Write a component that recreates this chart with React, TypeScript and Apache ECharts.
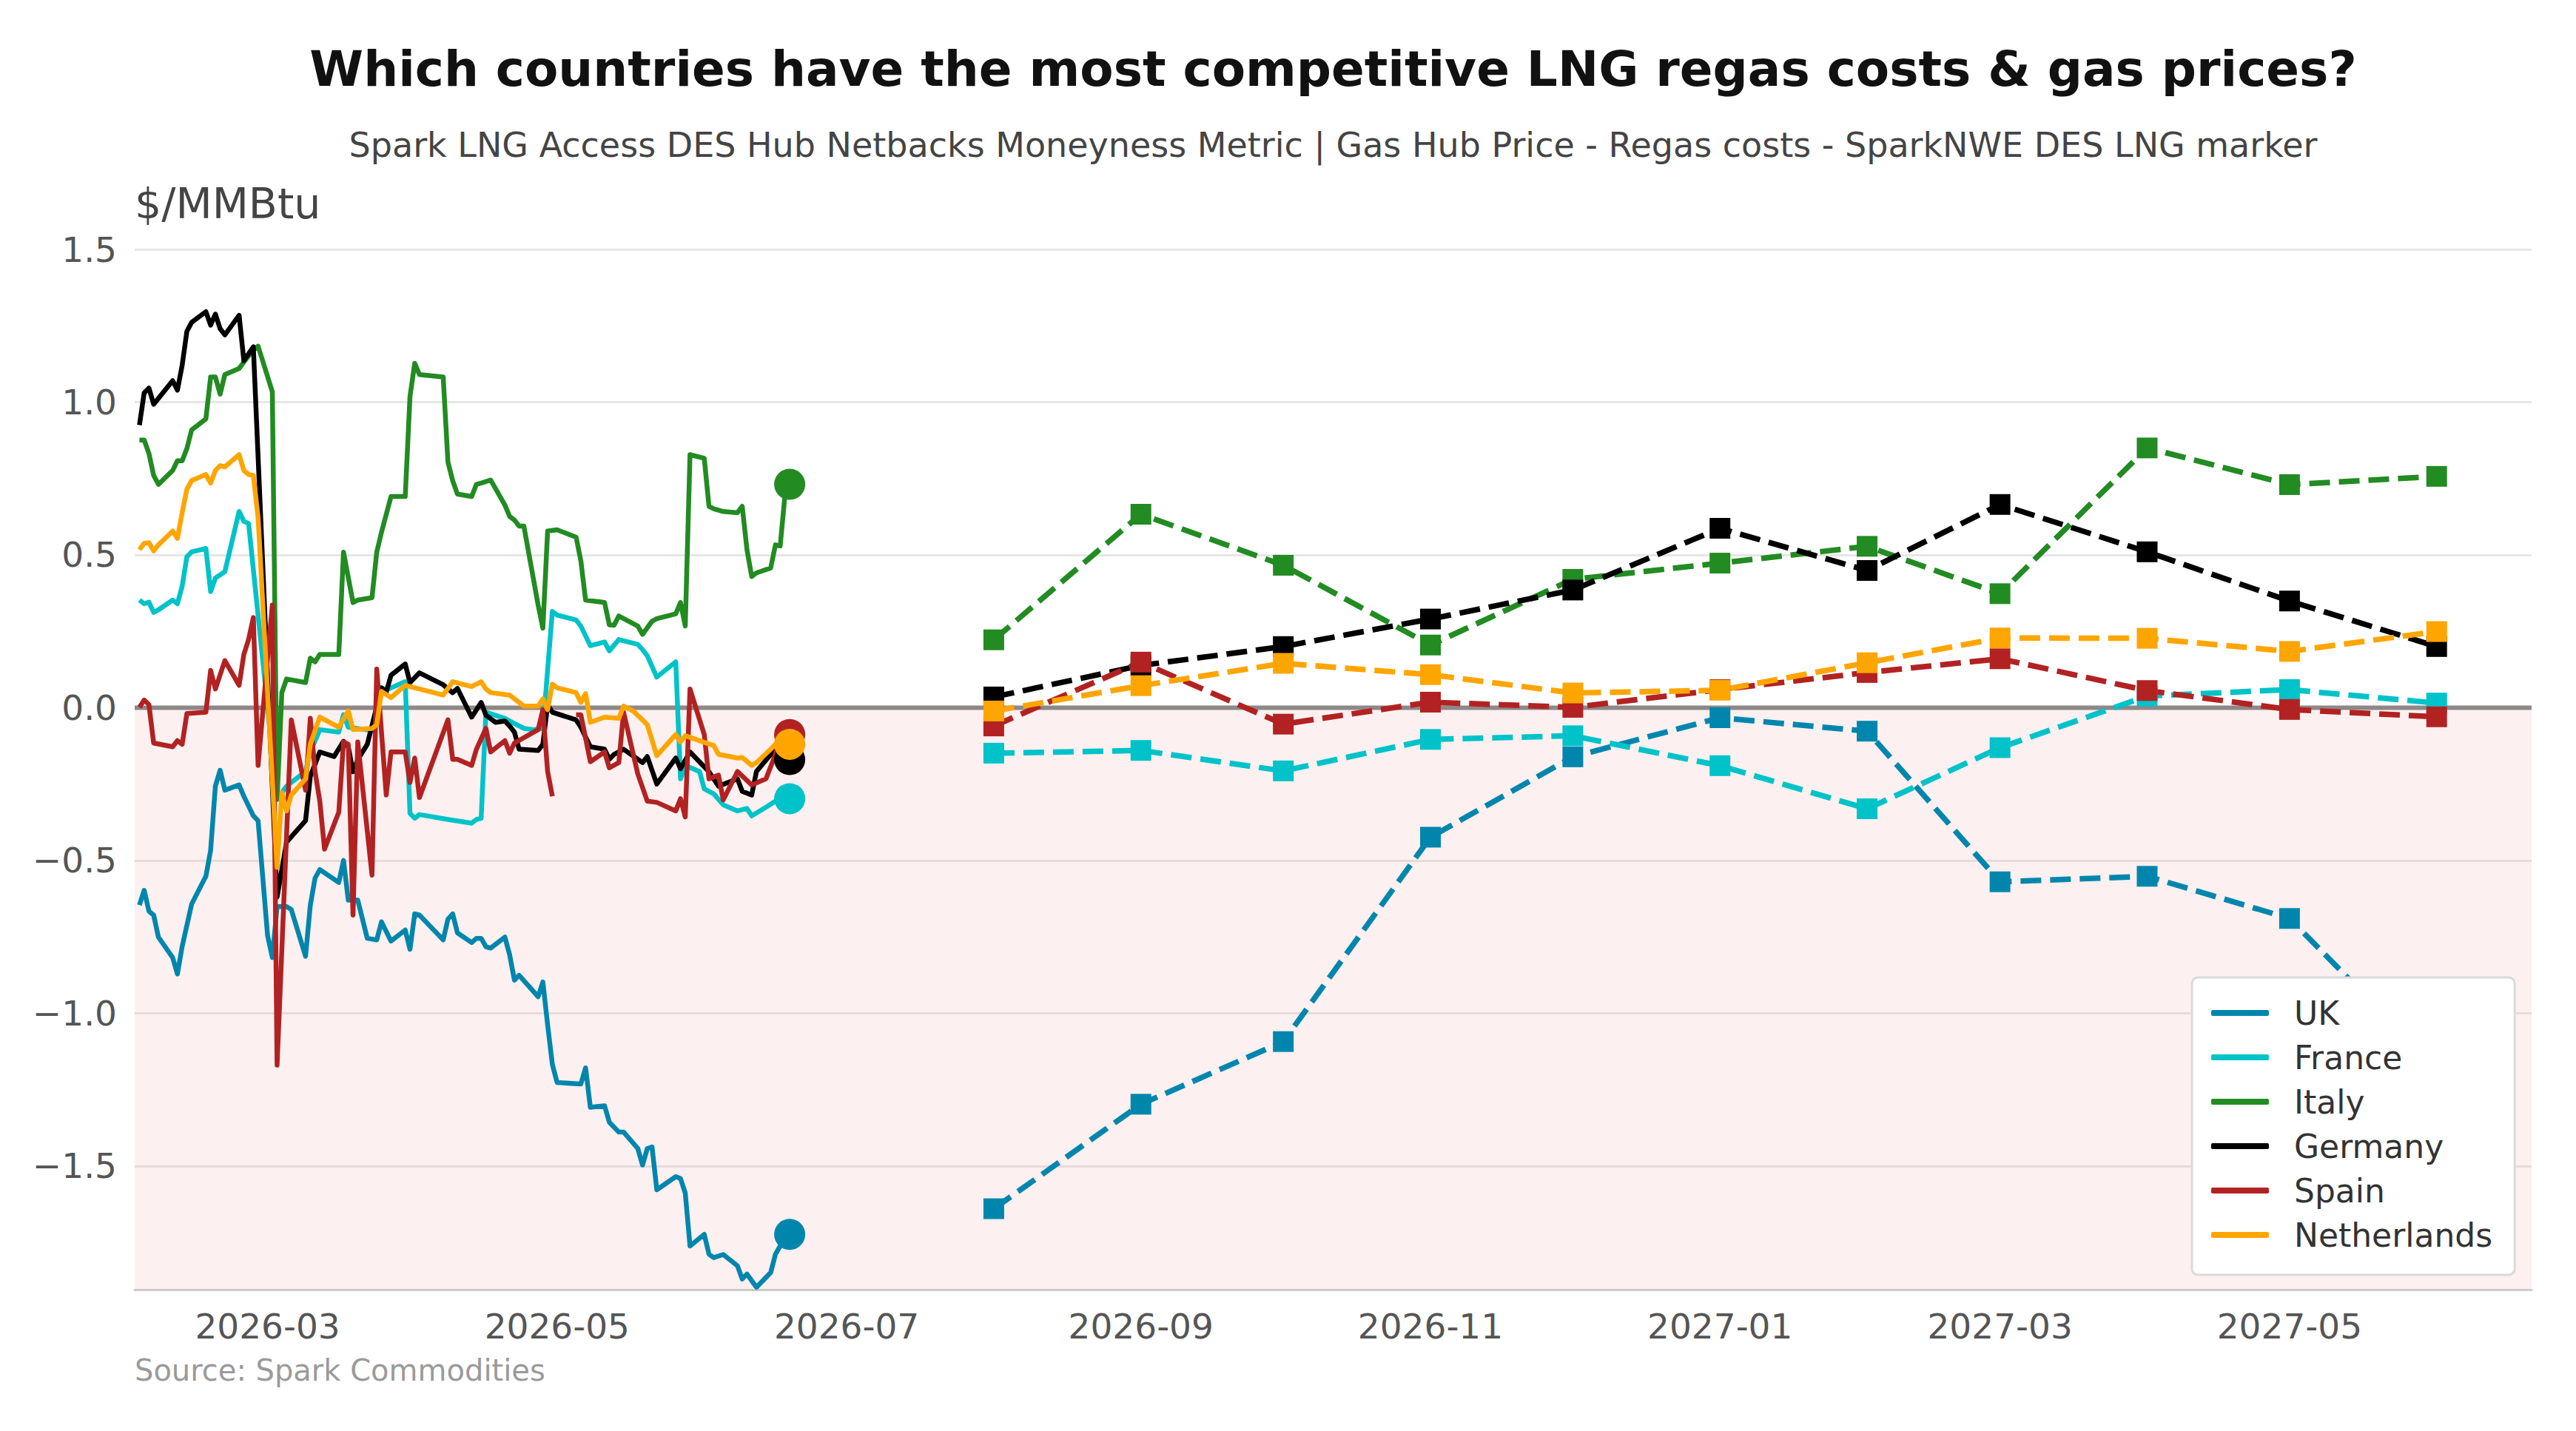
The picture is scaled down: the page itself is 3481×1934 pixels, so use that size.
import React, { useEffect, useRef } from 'react';
import * as echarts from 'echarts';

// ---------------- DATA ----------------
const COUNTRIES = ['UK', 'France', 'Italy', 'Germany', 'Spain', 'Netherlands'];
const COLORS = ['#0086ad', '#00c2c9', '#228b22', '#000000', '#b22222', '#ffa500'];

const TITLE = 'Which countries have the most competitive LNG regas costs & gas prices?';
const SUBTITLE = 'Spark LNG Access DES Hub Netbacks Moneyness Metric | Gas Hub Price - Regas costs - SparkNWE DES LNG marker';
const UNIT = '$/MMBtu';
const SOURCE = 'Source: Spark Commodities';

const xTickLabels = ['2026-03', '2026-05', '2026-07', '2026-09', '2026-11', '2027-01', '2027-03', '2027-05'];
const yTickValues = [-1.5, -1.0, -0.5, 0, 0.5, 1.0, 1.5];
const yTickLabels = ['\u22121.5', '\u22121.0', '\u22120.5', '0.0', '0.5', '1.0', '1.5'];

const X_MIN = '2026-02-01';
const X_MAX = '2027-06-21';
const Y_MIN = -1.905;
const Y_MAX = 1.5;

const ukHist: [string, number | null][] = [
  ['2026-02-02', -0.646], ['2026-02-03', -0.598], ['2026-02-04', -0.666], ['2026-02-05', -0.679], ['2026-02-06', -0.751],
  ['2026-02-09', -0.818], ['2026-02-10', -0.872], ['2026-02-11', -0.782], ['2026-02-13', -0.643], ['2026-02-16', -0.552],
  ['2026-02-17', -0.467], ['2026-02-18', -0.257], ['2026-02-19', -0.205], ['2026-02-20', -0.27], ['2026-02-23', -0.253],
  ['2026-02-24', -0.29], ['2026-02-26', -0.354], ['2026-02-27', -0.37], ['2026-03-01', -0.746], ['2026-03-02', -0.818],
  ['2026-03-03', -0.651], ['2026-03-05', -0.651], ['2026-03-06', -0.661], ['2026-03-09', -0.814], ['2026-03-10', -0.647],
  ['2026-03-11', -0.558], ['2026-03-12', -0.53], ['2026-03-16', -0.572], ['2026-03-17', -0.5], ['2026-03-18', -0.63],
  ['2026-03-20', -0.63], ['2026-03-22', -0.755], ['2026-03-24', -0.76], ['2026-03-25', -0.701], ['2026-03-27', -0.764],
  ['2026-03-30', -0.728], ['2026-03-31', -0.791], ['2026-04-01', -0.675], ['2026-04-02', -0.679], ['2026-04-07', -0.76],
  ['2026-04-08', -0.692], ['2026-04-09', -0.675], ['2026-04-10', -0.737], ['2026-04-13', -0.769], ['2026-04-14', -0.755],
  ['2026-04-15', -0.755], ['2026-04-16', -0.782], ['2026-04-17', -0.787], ['2026-04-20', -0.751], ['2026-04-21', -0.809],
  ['2026-04-22', -0.892], ['2026-04-23', -0.876], ['2026-04-27', -0.946], ['2026-04-28', -0.898], ['2026-04-29', -1.038],
  ['2026-04-30', -1.168], ['2026-05-01', -1.227], ['2026-05-06', -1.232], ['2026-05-07', -1.179], ['2026-05-08', -1.308],
  ['2026-05-11', -1.303], ['2026-05-12', -1.357], ['2026-05-14', -1.389], ['2026-05-15', -1.389], ['2026-05-18', -1.443],
  ['2026-05-19', -1.497], ['2026-05-20', -1.443], ['2026-05-21', -1.438], ['2026-05-22', -1.578], ['2026-05-26', -1.535],
  ['2026-05-27', -1.541], ['2026-05-28', -1.589], ['2026-05-29', -1.762], ['2026-06-01', -1.724], ['2026-06-02', -1.789],
  ['2026-06-03', -1.8], ['2026-06-05', -1.79], ['2026-06-08', -1.827], ['2026-06-09', -1.87], ['2026-06-10', -1.854],
  ['2026-06-12', -1.897], ['2026-06-15', -1.849], ['2026-06-16', -1.789], ['2026-06-17', -1.762], ['2026-06-18', -1.74],
  ['2026-06-19', -1.724],
];

const franceHist: [string, number | null][] = [
  ['2026-02-02', 0.352], ['2026-02-03', 0.34], ['2026-02-04', 0.345], ['2026-02-05', 0.312], ['2026-02-06', 0.32],
  ['2026-02-09', 0.352], ['2026-02-10', 0.34], ['2026-02-11', 0.397], ['2026-02-12', 0.494], ['2026-02-13', 0.51],
  ['2026-02-16', 0.521], ['2026-02-17', 0.38], ['2026-02-18', 0.424], ['2026-02-20', 0.445], ['2026-02-23', 0.642],
  ['2026-02-24', 0.61], ['2026-02-25', 0.603], ['2026-03-03', -0.3], ['2026-03-05', -0.257], ['2026-03-09', -0.209],
  ['2026-03-10', -0.145], ['2026-03-12', -0.072], ['2026-03-16', -0.08], ['2026-03-17', -0.023], ['2026-03-18', -0.064],
  ['2026-03-23', -0.075], ['2026-03-25', 0.065], ['2026-03-26', 0.058], ['2026-03-30', 0.085], ['2026-03-31', -0.346],
  ['2026-04-01', -0.362], ['2026-04-02', -0.35], ['2026-04-08', -0.366], ['2026-04-13', -0.378], ['2026-04-14', -0.366],
  ['2026-04-15', -0.362], ['2026-04-16', -0.015], ['2026-04-20', -0.035], ['2026-04-22', -0.052], ['2026-04-24', -0.068],
  ['2026-04-26', -0.072], ['2026-04-28', -0.068], ['2026-04-30', 0.315], ['2026-05-01', 0.303], ['2026-05-05', 0.287],
  ['2026-05-06', 0.267], ['2026-05-08', 0.203], ['2026-05-11', 0.215], ['2026-05-12', 0.186], ['2026-05-14', 0.223],
  ['2026-05-18', 0.207], ['2026-05-19', 0.19], ['2026-05-20', 0.17], ['2026-05-22', 0.1], ['2026-05-26', 0.15],
  ['2026-05-27', -0.233], ['2026-05-28', -0.189], ['2026-05-31', -0.209], ['2026-06-01', -0.266], ['2026-06-03', -0.282],
  ['2026-06-05', -0.318], ['2026-06-08', -0.338], ['2026-06-10', -0.33], ['2026-06-11', -0.354], ['2026-06-14', -0.326],
  ['2026-06-16', -0.306], ['2026-06-17', -0.286], ['2026-06-19', -0.298],
];

const italyHist: [string, number | null][] = [
  ['2026-02-02', 0.876], ['2026-02-03', 0.876], ['2026-02-04', 0.832], ['2026-02-05', 0.76], ['2026-02-06', 0.731],
  ['2026-02-09', 0.776], ['2026-02-10', 0.808], ['2026-02-11', 0.808], ['2026-02-12', 0.848], ['2026-02-13', 0.909],
  ['2026-02-14', 0.921], ['2026-02-16', 0.945], ['2026-02-17', 1.082], ['2026-02-18', 1.082], ['2026-02-19', 1.026],
  ['2026-02-20', 1.09], ['2026-02-23', 1.11], ['2026-02-24', 1.131], ['2026-02-26', 1.171], ['2026-02-27', 1.183],
  ['2026-03-02', 1.034], ['2026-03-03', -0.3], ['2026-03-04', 0.049], ['2026-03-05', 0.094], ['2026-03-09', 0.082],
  ['2026-03-10', 0.162], ['2026-03-11', 0.15], ['2026-03-12', 0.174], ['2026-03-16', 0.174], ['2026-03-17', 0.509],
  ['2026-03-19', 0.344], ['2026-03-20', 0.352], ['2026-03-23', 0.36], ['2026-03-24', 0.509], ['2026-03-25', 0.574],
  ['2026-03-27', 0.691], ['2026-03-30', 0.691], ['2026-03-31', 1.018], ['2026-04-01', 1.127], ['2026-04-02', 1.09],
  ['2026-04-07', 1.082], ['2026-04-08', 0.804], ['2026-04-09', 0.743], ['2026-04-10', 0.699], ['2026-04-13', 0.691],
  ['2026-04-14', 0.731], ['2026-04-15', 0.735], ['2026-04-17', 0.745], ['2026-04-20', 0.663], ['2026-04-21', 0.626],
  ['2026-04-22', 0.614], ['2026-04-23', 0.594], ['2026-04-24', 0.594], ['2026-04-27', 0.336], ['2026-04-28', 0.26],
  ['2026-04-29', 0.578], ['2026-05-01', 0.582], ['2026-05-05', 0.558], ['2026-05-06', 0.481], ['2026-05-07', 0.352],
  ['2026-05-11', 0.344], ['2026-05-12', 0.271], ['2026-05-13', 0.27], ['2026-05-14', 0.3], ['2026-05-18', 0.267],
  ['2026-05-19', 0.24], ['2026-05-21', 0.283], ['2026-05-22', 0.291], ['2026-05-26', 0.307], ['2026-05-27', 0.344],
  ['2026-05-28', 0.267], ['2026-05-29', 0.828], ['2026-06-01', 0.816], ['2026-06-02', 0.659], ['2026-06-03', 0.651],
  ['2026-06-05', 0.642], ['2026-06-08', 0.638], ['2026-06-09', 0.659], ['2026-06-10', 0.517], ['2026-06-11', 0.429],
  ['2026-06-12', 0.441], ['2026-06-15', 0.457], ['2026-06-16', 0.533], ['2026-06-17', 0.529], ['2026-06-18', 0.695],
  ['2026-06-19', 0.731],
];

const germanyHist: [string, number | null][] = [
  ['2026-02-02', 0.925], ['2026-02-03', 1.03], ['2026-02-04', 1.046], ['2026-02-05', 0.993], ['2026-02-09', 1.07],
  ['2026-02-10', 1.039], ['2026-02-11', 1.12], ['2026-02-12', 1.232], ['2026-02-13', 1.261], ['2026-02-16', 1.296],
  ['2026-02-17', 1.252], ['2026-02-18', 1.288], ['2026-02-19', 1.24], ['2026-02-20', 1.22], ['2026-02-23', 1.284],
  ['2026-02-24', 1.136], ['2026-02-26', 1.181], ['2026-03-03', -0.62], ['2026-03-05', -0.44], ['2026-03-09', -0.37],
  ['2026-03-10', -0.225], ['2026-03-12', -0.145], ['2026-03-15', -0.16], ['2026-03-17', -0.11], ['2026-03-18', -0.128],
  ['2026-03-19', -0.21], ['2026-03-20', -0.17], ['2026-03-22', -0.12], ['2026-03-25', 0.065], ['2026-03-26', 0.05],
  ['2026-03-27', 0.106], ['2026-03-30', 0.143], ['2026-03-31', 0.082], ['2026-04-02', 0.114], ['2026-04-07', 0.075],
  ['2026-04-09', 0.049], ['2026-04-10', 0.063], ['2026-04-13', -0.031], ['2026-04-15', 0.017], ['2026-04-16', -0.025],
  ['2026-04-18', -0.048], ['2026-04-20', -0.044], ['2026-04-21', -0.06], ['2026-04-22', -0.08], ['2026-04-23', -0.136],
  ['2026-04-27', -0.14], ['2026-04-28', -0.12], ['2026-04-29', 0.009], ['2026-04-30', -0.015], ['2026-05-05', -0.04],
  ['2026-05-06', -0.064], ['2026-05-08', -0.128], ['2026-05-11', -0.136], ['2026-05-12', -0.169], ['2026-05-13', -0.153],
  ['2026-05-15', -0.136], ['2026-05-19', -0.18], ['2026-05-20', -0.16], ['2026-05-22', -0.25], ['2026-05-26', -0.165],
  ['2026-05-27', -0.2], ['2026-05-29', -0.145], ['2026-06-02', -0.21], ['2026-06-04', -0.257], ['2026-06-08', -0.233],
  ['2026-06-09', -0.274], ['2026-06-11', -0.286], ['2026-06-12', -0.209], ['2026-06-15', -0.153], ['2026-06-18', -0.096],
  ['2026-06-19', -0.17],
];

const spainHist: [string, number | null][] = [
  ['2026-02-02', 0.001], ['2026-02-03', 0.025], ['2026-02-04', 0.01], ['2026-02-05', -0.116], ['2026-02-09', -0.128],
  ['2026-02-10', -0.108], ['2026-02-11', -0.12], ['2026-02-12', -0.019], ['2026-02-16', -0.015], ['2026-02-17', 0.122],
  ['2026-02-18', 0.061], ['2026-02-20', 0.154], ['2026-02-23', 0.073], ['2026-02-24', 0.174], ['2026-02-25', 0.223],
  ['2026-02-26', 0.295], ['2026-02-27', -0.189], ['2026-03-02', 0.336], ['2026-03-03', -1.17], ['2026-03-06', -0.04],
  ['2026-03-09', -0.27], ['2026-03-10', -0.035], ['2026-03-11', -0.209], ['2026-03-12', -0.306], ['2026-03-13', -0.463],
  ['2026-03-16', -0.342], ['2026-03-17', -0.112], ['2026-03-18', -0.12], ['2026-03-19', -0.679], ['2026-03-20', -0.112],
  ['2026-03-23', -0.548], ['2026-03-24', 0.126], ['2026-03-26', -0.286], ['2026-03-27', -0.145], ['2026-03-30', -0.145],
  ['2026-03-31', -0.245], ['2026-04-01', -0.165], ['2026-04-02', -0.294], ['2026-04-08', -0.04], ['2026-04-09', -0.169],
  ['2026-04-10', -0.169], ['2026-04-13', -0.189], ['2026-04-14', -0.136], ['2026-04-16', -0.068], ['2026-04-17', -0.145],
  ['2026-04-20', -0.108], ['2026-04-21', -0.149], ['2026-04-22', -0.116], ['2026-04-27', -0.072], ['2026-04-28', -0.007],
  ['2026-04-29', -0.209], ['2026-04-30', -0.29], ['2026-05-01', null], ['2026-05-05', -0.023], ['2026-05-06', -0.023],
  ['2026-05-08', -0.177], ['2026-05-11', -0.145], ['2026-05-12', -0.197], ['2026-05-14', -0.18], ['2026-05-15', -0.015],
  ['2026-05-18', -0.217], ['2026-05-20', -0.306], ['2026-05-22', -0.31], ['2026-05-26', -0.338], ['2026-05-27', -0.298],
  ['2026-05-28', -0.358], ['2026-05-29', 0.061], ['2026-06-01', -0.088], ['2026-06-02', -0.233], ['2026-06-04', -0.221],
  ['2026-06-05', -0.302], ['2026-06-08', -0.209], ['2026-06-11', -0.253], ['2026-06-14', -0.233], ['2026-06-16', -0.153],
  ['2026-06-17', -0.096], ['2026-06-19', -0.088],
];

const netherlandsHist: [string, number | null][] = [
  ['2026-02-02', 0.517], ['2026-02-03', 0.538], ['2026-02-04', 0.54], ['2026-02-05', 0.513], ['2026-02-06', 0.533],
  ['2026-02-09', 0.578], ['2026-02-10', 0.554], ['2026-02-11', 0.638], ['2026-02-12', 0.715], ['2026-02-13', 0.743],
  ['2026-02-16', 0.763], ['2026-02-17', 0.735], ['2026-02-18', 0.776], ['2026-02-19', 0.792], ['2026-02-20', 0.788],
  ['2026-02-23', 0.828], ['2026-02-24', 0.776], ['2026-02-25', 0.763], ['2026-02-26', 0.76], ['2026-02-27', 0.622],
  ['2026-03-03', -0.523], ['2026-03-04', -0.278], ['2026-03-05', -0.338], ['2026-03-06', -0.286], ['2026-03-09', -0.233],
  ['2026-03-10', -0.12], ['2026-03-12', -0.031], ['2026-03-16', -0.064], ['2026-03-18', -0.011], ['2026-03-19', -0.072],
  ['2026-03-23', -0.068], ['2026-03-24', -0.056], ['2026-03-25', 0.053], ['2026-03-27', 0.033], ['2026-03-30', 0.073],
  ['2026-04-02', 0.061], ['2026-04-07', 0.041], ['2026-04-09', 0.085], ['2026-04-13', 0.069], ['2026-04-15', 0.085],
  ['2026-04-16', 0.061], ['2026-04-17', 0.049], ['2026-04-21', 0.041], ['2026-04-23', 0.017], ['2026-04-24', 0.005],
  ['2026-04-27', 0.005], ['2026-04-28', 0.029], ['2026-04-29', -0.007], ['2026-04-30', 0.077], ['2026-05-01', 0.065],
  ['2026-05-05', 0.049], ['2026-05-06', 0.017], ['2026-05-07', 0.046], ['2026-05-08', -0.048], ['2026-05-11', -0.031],
  ['2026-05-14', -0.035], ['2026-05-15', 0.005], ['2026-05-17', -0.011], ['2026-05-19', -0.04], ['2026-05-20', -0.056],
  ['2026-05-22', -0.157], ['2026-05-26', -0.088], ['2026-05-27', -0.112], ['2026-05-28', -0.092], ['2026-06-03', -0.124],
  ['2026-06-04', -0.153], ['2026-06-08', -0.165], ['2026-06-09', -0.163], ['2026-06-11', -0.189], ['2026-06-12', -0.18],
  ['2026-06-15', -0.136], ['2026-06-17', -0.104], ['2026-06-18', -0.08], ['2026-06-19', -0.12],
];

const fwdMonths = [
  '2026-08-01', '2026-09-01', '2026-10-01', '2026-11-01', '2026-12-01', '2027-01-01',
  '2027-02-01', '2027-03-01', '2027-04-01', '2027-05-01', '2027-06-01',
];
const ukFwd = [-1.64, -1.298, -1.093, -0.424, -0.161, -0.033, -0.077, -0.57, -0.552, -0.69, -1.18];
const franceFwd = [-0.149, -0.14, -0.207, -0.104, -0.092, -0.19, -0.331, -0.131, 0.038, 0.059, 0.015];
const italyFwd = [0.222, 0.633, 0.466, 0.205, 0.42, 0.473, 0.528, 0.373, 0.85, 0.73, 0.757];
const germanyFwd = [0.035, 0.138, 0.2, 0.29, 0.385, 0.587, 0.449, 0.665, 0.51, 0.349, 0.2];
const spainFwd = [-0.06, 0.149, -0.054, 0.018, 0.001, 0.059, 0.115, 0.16, 0.056, -0.006, -0.03];
const netherlandsFwd = [-0.011, 0.072, 0.145, 0.108, 0.048, 0.057, 0.147, 0.228, 0.227, 0.184, 0.249];

const HIST = [ukHist, franceHist, italyHist, germanyHist, spainHist, netherlandsHist];
const FWD = [ukFwd, franceFwd, italyFwd, germanyFwd, spainFwd, netherlandsFwd];

// ---------------- STYLE ----------------
const FONT = "'DejaVu Sans', 'Noto Sans', sans-serif";
const W = 3481;
const H = 1934;
const GRID = { left: 182, right: 60, top: 337, bottom: 191 };
const PLOT_CENTER_X = GRID.left + (W - GRID.left - GRID.right) / 2;

// dates -> UTC timestamps, used on a numeric x axis
function ts(s: string): number {
  return Date.parse(s + 'T00:00:00Z');
}

function monthLabel(v: number): string {
  const d = new Date(v);
  return `${d.getUTCFullYear()}-${String(d.getUTCMonth() + 1).padStart(2, '0')}`;
}

function yLabel(v: number): string {
  let best = 0;
  for (let i = 0; i < yTickValues.length; i++) {
    if (Math.abs(yTickValues[i] - v) < Math.abs(yTickValues[best] - v)) best = i;
  }
  return yTickLabels[best];
}

function buildOption(): any {
  const series: any[] = [];

  // zero line + shaded negative region
  series.push({
    type: 'line',
    name: '__zero',
    data: [[ts(X_MIN), 0], [ts(X_MAX), 0]],
    symbol: 'none',
    silent: true,
    z: 1,
    lineStyle: { color: '#8e8888', width: 6 },
    areaStyle: { origin: 'start', color: 'rgba(240,128,128,0.12)', opacity: 1 },
  });

  COUNTRIES.forEach((name, i) => {
    const color = COLORS[i];
    const hist = HIST[i].map(([d, v]) => [ts(d), v === null ? '-' : v]);
    series.push({
      type: 'line',
      name,
      data: hist,
      symbol: 'none',
      connectNulls: false,
      z: 2,
      lineStyle: { color, width: 6.5, join: 'round' },
      itemStyle: { color },
    });
    series.push({
      type: 'scatter',
      name,
      data: [hist[hist.length - 1]],
      symbol: 'circle',
      symbolSize: 42,
      z: 3,
      itemStyle: { color, opacity: 1 },
    });
    series.push({
      type: 'line',
      name,
      data: fwdMonths.map((m, j) => [ts(m), FWD[i][j]]),
      symbol: 'rect',
      symbolSize: 28,
      showSymbol: true,
      showAllSymbol: true,
      z: 3,
      lineStyle: { color, width: 7.5, type: [28, 12] },
      itemStyle: { color, opacity: 1 },
    });
  });

  const xTickValues = xTickLabels.map((s) => ts(s + '-01'));

  return {
    animation: false,
    backgroundColor: '#ffffff',
    textStyle: { fontFamily: FONT },
    grid: { ...GRID, containLabel: false },
    xAxis: {
      type: 'value',
      min: ts(X_MIN),
      max: ts(X_MAX),
      scale: true,
      axisLine: { show: true, onZero: false, lineStyle: { color: '#cccccc', width: 3 } },
      axisTick: { show: false, customValues: xTickValues },
      splitLine: { show: false },
      axisLabel: {
        customValues: xTickValues,
        formatter: (v: number) => monthLabel(v),
        fontSize: 47,
        color: '#555555',
        fontFamily: FONT,
        margin: 26,
        hideOverlap: false,
      },
    },
    yAxis: {
      type: 'value',
      min: Y_MIN,
      max: Y_MAX,
      axisLine: { show: false },
      axisTick: { show: false, customValues: yTickValues },
      axisLabel: {
        customValues: yTickValues,
        formatter: (v: number) => yLabel(v),
        fontSize: 47,
        color: '#555555',
        fontFamily: FONT,
        margin: 24,
      },
      splitLine: { show: true, lineStyle: { color: '#e6e6e6', width: 3 } },
    },
    legend: {
      data: COUNTRIES.map((name, i) => ({ name, icon: 'roundRect', itemStyle: { color: COLORS[i] } })),
      orient: 'vertical',
      left: 2962,
      top: 1321,
      padding: [26, 30, 32, 26],
      itemWidth: 78,
      itemHeight: 8,
      itemGap: 16,
      selectedMode: false,
      backgroundColor: '#ffffff',
      borderColor: '#dadada',
      borderWidth: 3,
      borderRadius: 8,
      textStyle: {
        fontSize: 44,
        lineHeight: 42,
        color: '#333333',
        fontFamily: FONT,
        padding: [0, 0, 0, 29],
      },
    },
    graphic: [
      {
        type: 'text',
        x: PLOT_CENTER_X,
        y: 93,
        style: {
          text: TITLE,
          fontSize: 66,
          fontWeight: 'bold',
          fontFamily: FONT,
          fill: '#111111',
          align: 'center',
          verticalAlign: 'middle',
        },
      },
      {
        type: 'text',
        x: PLOT_CENTER_X,
        y: 196,
        style: {
          text: SUBTITLE,
          fontSize: 46,
          fontFamily: FONT,
          fill: '#444444',
          align: 'center',
          verticalAlign: 'middle',
        },
      },
      {
        type: 'text',
        x: GRID.left,
        y: 275,
        style: {
          text: UNIT,
          fontSize: 57,
          fontFamily: FONT,
          fill: '#444444',
          align: 'left',
          verticalAlign: 'middle',
        },
      },
      {
        type: 'text',
        x: GRID.left,
        y: 1852,
        style: {
          text: SOURCE,
          fontSize: 40,
          fontFamily: FONT,
          fill: '#9a9a9a',
          align: 'left',
          verticalAlign: 'middle',
        },
      },
    ],
    series,
  };
}

export default function App() {
  const ref = useRef<HTMLDivElement>(null);
  useEffect(() => {
    if (!ref.current) return;
    const chart = echarts.init(ref.current, undefined, { renderer: 'svg' });
    chart.setOption(buildOption());
    return () => {
      chart.dispose();
    };
  }, []);
  return (
    <div
      ref={ref}
      style={{ position: 'fixed', left: 0, top: 0, width: W, height: H, background: '#ffffff' }}
    />
  );
}
